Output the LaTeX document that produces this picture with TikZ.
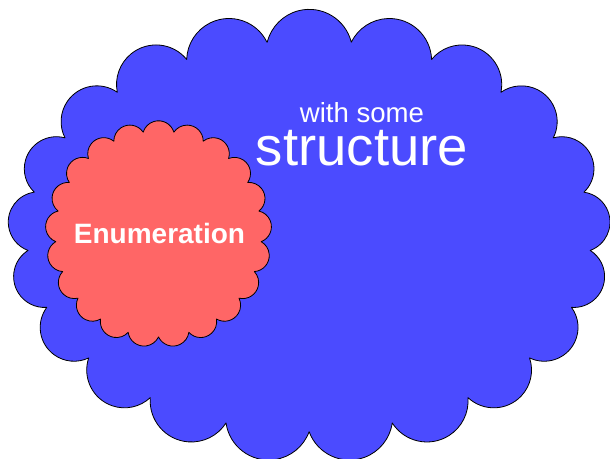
\documentclass[tikz,border=0pt]{standalone}
\usepackage{fontspec}
\setmainfont{Liberation Sans}
\definecolor{cloudblue}{HTML}{4B4BFF}
\definecolor{cloudred}{HTML}{FF6666}
% #1 cx, #2 cy, #3 a, #4 b, #5 puffs, #6 puff arc
\newcommand\mkcloudpath[6]{%
  \pgfmathsetmacro\cldstep{360/#5}%
  \pgfmathsetmacro\cldzero{90+\cldstep/2}%
  \pgfmathsetmacro\cldsx{#1+#3*cos(\cldzero)}%
  \pgfmathsetmacro\cldsy{#2+#4*sin(\cldzero)}%
  \xdef\cldpath{(\cldsx,\cldsy)}%
  \pgfmathtruncatemacro\cldlast{#5-1}%
  \foreach \k in {0,...,\cldlast}{%
    \pgfmathsetmacro\cldta{\cldzero+\cldstep*\k}%
    \pgfmathsetmacro\cldtb{\cldta+\cldstep}%
    \pgfmathsetmacro\cldxa{#1+#3*cos(\cldta)}%
    \pgfmathsetmacro\cldya{#2+#4*sin(\cldta)}%
    \pgfmathsetmacro\cldxb{#1+#3*cos(\cldtb)}%
    \pgfmathsetmacro\cldyb{#2+#4*sin(\cldtb)}%
    \pgfmathsetmacro\cldal{atan2(\cldyb-\cldya,\cldxb-\cldxa)}%
    \pgfmathsetmacro\cldrr{veclen(\cldxb-\cldxa,\cldyb-\cldya)/(2*sin(#6/2))}%
    \pgfmathsetmacro\cldsa{\cldal+270-#6/2}%
    \pgfmathsetmacro\cldea{\cldal+270+#6/2}%
    \xdef\cldpath{\cldpath arc[start angle=\cldsa, end angle=\cldea, radius=\cldrr]}%
  }%
}
\tikzset{
  cloudline/.style={draw=black, line width=0.8pt, line join=round},
  cloudtext/.style={anchor=base, text=white, inner sep=0pt}
}
\begin{document}
\begin{tikzpicture}[x=1pt, y=1pt]
\useasboundingbox (0,0) rectangle (610,458);
\clip (0,0) rectangle (610,458);
% big blue cloud
\mkcloudpath{309}{222}{282}{196}{21}{152}
\edef\cldtmp{\noexpand\path[fill=cloudblue, cloudline] \cldpath -- cycle;}\cldtmp
% red cloud
\mkcloudpath{158.5}{224}{103}{103}{21}{146}
\edef\cldtmp{\noexpand\path[fill=cloudred, cloudline] \cldpath -- cycle;}\cldtmp
% texts
\node[cloudtext, text depth=0pt, font=\fontsize{27.6}{30}\selectfont] (withsome) at (362,335) {with some};
\node[cloudtext, text height=0.68em, font=\fontsize{54.5}{60}\selectfont] (structure) at (362,292) {structure};
\node[cloudtext, font=\bfseries\fontsize{28}{30}\selectfont] (enumeration) at (159.5,214) {Enumeration};
\end{tikzpicture}
\end{document}
